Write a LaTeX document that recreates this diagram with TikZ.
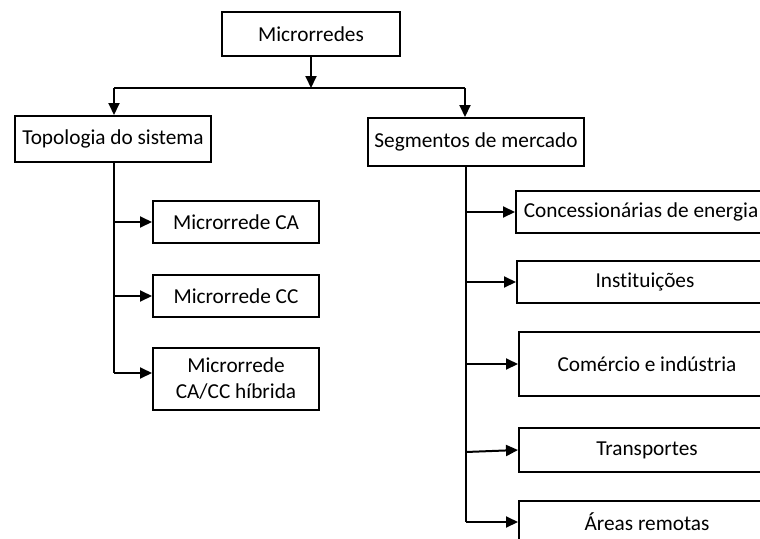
\documentclass[tikz,border=0pt]{standalone}
\usepackage{fontspec}
\setmainfont[Ligatures=CommonOff]{Carlito}
\usetikzlibrary{arrows.meta}
\begin{document}
\begin{tikzpicture}[x=1pt,y=-1pt,
  box/.style={draw=black,line width=2pt,inner sep=0pt,align=center,
    font=\fontsize{21.3}{26}\selectfont,text=black},
  link/.style={draw=black,line width=2pt},
  arr/.style={link,-{Triangle[length=12pt,width=11pt]}}]
  \useasboundingbox (0,0) rectangle (760,538);
  \clip (0,0) rectangle (760,538);
  \fill[white] (0,0) rectangle (760,538);

  % root and first level
  \node[box,minimum width=178pt,minimum height=44pt] (micro) at (311,34) {Microrredes};
  \node[box,minimum width=196pt,minimum height=46pt] (topo) at (113,139) {Topologia do sistema};
  \node[box,minimum width=216pt,minimum height=48pt] (seg) at (476,142) {Segmentos de mercado};

  % topology branch
  \node[box,minimum width=166pt,minimum height=42pt] (ca) at (236,222) {Microrrede CA};
  \node[box,minimum width=166pt,minimum height=42pt] (cc) at (236,296) {Microrrede CC};
  \node[box,minimum width=166pt,minimum height=62pt] (hyb) at (236,379) {Microrrede\\CA/CC híbrida};

  % market branch
  \node[box,minimum width=250pt,minimum height=42pt] (conc) at (641,212) {Concessionárias de energia};
  \node[box,minimum width=256pt,minimum height=42pt] (inst) at (645,282) {Instituições};
  \node[box,minimum width=256pt,minimum height=64pt] (com) at (647,364) {Comércio e indústria};
  \node[box,minimum width=256pt,minimum height=44pt] (trans) at (647,450) {Transportes};
  \node[box,minimum width=256pt,minimum height=42pt] (areas) at (647,522) {Áreas remotas};

  % junctions
  \coordinate (j) at (311,88);
  \coordinate (jl) at (114,88);
  \coordinate (jr) at (465,88);
  \coordinate (lt) at (114,373);
  \coordinate (rt) at (466,522);

  % top-level connectors
  \draw[arr] (micro.south) -- (j);
  \draw[link] (jl) -- (jr);
  \draw[arr] (jl) -- (jl |- topo.north);
  \draw[arr] (jr) -- (jr |- seg.north);

  % topology trunk
  \draw[link] (lt |- topo.south) -- (lt);
  \draw[arr] (lt |- ca.west) -- (ca.west);
  \draw[arr] (lt |- cc.west) -- (cc.west);
  \draw[arr] (lt) -- (lt -| hyb.west);

  % market trunk
  \draw[link] (rt |- seg.south) -- (rt);
  \draw[arr] (rt |- conc.west) -- (conc.west);
  \draw[arr] (rt |- inst.west) -- (inst.west);
  \draw[arr] (rt |- com.west) -- (com.west);
  \draw[arr] ([yshift=-2pt]rt |- trans.west) -- (trans.west);
  \draw[arr] (rt) -- (areas.west);
\end{tikzpicture}
\end{document}
